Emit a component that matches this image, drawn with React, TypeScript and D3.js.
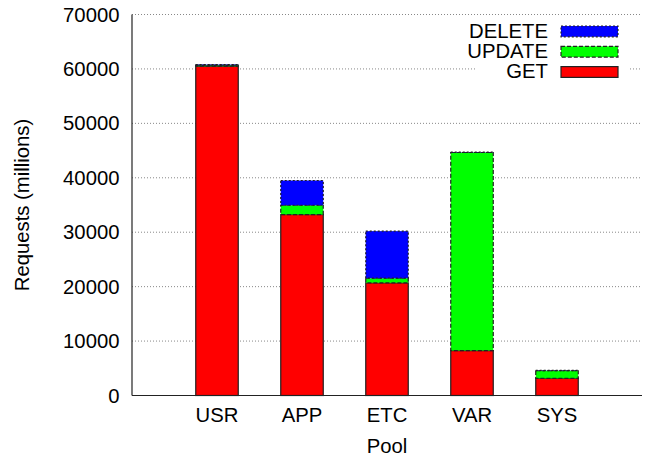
import React from "react";
import * as d3 from "d3";

const categories = ["USR", "APP", "ETC", "VAR", "SYS"];
const getValues = [60500, 33250, 20700, 8250, 3150];
const updateValues = [200, 1700, 850, 36400, 1400];
const deleteValues = [100, 4550, 8650, 50, 50];
const yTicks = [0, 10000, 20000, 30000, 40000, 50000, 60000, 70000];

const seriesNames = ["GET", "UPDATE", "DELETE"];
const seriesColors = ["#ff0000", "#00ff00", "#0000ff"];
const seriesDash = ["none", "4,2", "2,2"];

const W = 646;
const H = 457;
const FONT = "'Liberation Sans', Arial, Helvetica, sans-serif";
const FS = 20.3;

export default function App() {
  const x = d3.scaleLinear().domain([-1, 5]).range([132, 642]);
  const y = d3.scaleLinear().domain([0, 70000]).range([395.5, 14.5]);
  const barW = x(0.5) - x(0);

  const data = categories.map((c, i) => ({
    cat: c,
    GET: getValues[i],
    UPDATE: updateValues[i],
    DELETE: deleteValues[i],
  }));
  const stacked = d3.stack<any>().keys(seriesNames)(data);

  const legendRows = [2, 1, 0];

  return (
    <svg width={W} height={H} style={{ position: "absolute", left: 0, top: 0, background: "#fff" }}>
      <rect x={0} y={0} width={W} height={H} fill="#fff" />
      {yTicks.map((t) => (
        <line
          key={"g" + t}
          x1={x(-1)}
          x2={x(5)}
          y1={y(t)}
          y2={y(t)}
          stroke="#888"
          strokeWidth={1}
          strokeDasharray="1,2"
        />
      ))}
      <rect x={475} y={20} width={153} height={62} fill="#fff" />
      {categories.map((c, i) =>
        stacked.map((s, k) => {
          const d = s[i];
          const y0 = y(d[0]);
          const y1 = y(d[1]);
          return (
            <rect
              key={c + k}
              x={x(i) - barW / 2}
              y={y1}
              width={barW}
              height={Math.max(0, y0 - y1)}
              fill={seriesColors[k]}
              stroke="#222"
              strokeWidth={1.2}
              strokeDasharray={seriesDash[k]}
            />
          );
        })
      )}
      <line x1={x(-1)} x2={x(-1)} y1={y(70000)} y2={y(0)} stroke="#222" strokeWidth={1.2} />
      <line x1={x(-1)} x2={x(5)} y1={y(0)} y2={y(0)} stroke="#222" strokeWidth={1.2} />
      {yTicks.map((t) => (
        <text
          key={"t" + t}
          x={119.5}
          y={y(t) + 7}
          textAnchor="end"
          fontFamily={FONT}
          fontSize={FS}
          fill="#000"
        >
          {t}
        </text>
      ))}
      {categories.map((c, i) => (
        <text
          key={"x" + c}
          x={x(i)}
          y={422.3}
          textAnchor="middle"
          fontFamily={FONT}
          fontSize={FS}
          fill="#000"
        >
          {c}
        </text>
      ))}
      <text x={(x(-1) + x(5)) / 2} y={453} textAnchor="middle" fontFamily={FONT} fontSize={FS}>
        Pool
      </text>
      <text
        transform={`translate(29, ${(y(0) + y(70000)) / 2}) rotate(-90)`}
        textAnchor="middle"
        fontFamily={FONT}
        fontSize={FS}
      >
        Requests (millions)
      </text>
      {legendRows.map((k, r) => (
        <g key={"l" + k}>
          <text
            x={548}
            y={38.3 + r * 20}
            textAnchor="end"
            fontFamily={FONT}
            fontSize={FS}
          >
            {seriesNames[k]}
          </text>
          <rect
            x={561}
            y={26 + r * 20.3}
            width={57}
            height={10.8}
            fill={seriesColors[k]}
            stroke="#222"
            strokeWidth={1.2}
            strokeDasharray={seriesDash[k]}
          />
        </g>
      ))}
    </svg>
  );
}
